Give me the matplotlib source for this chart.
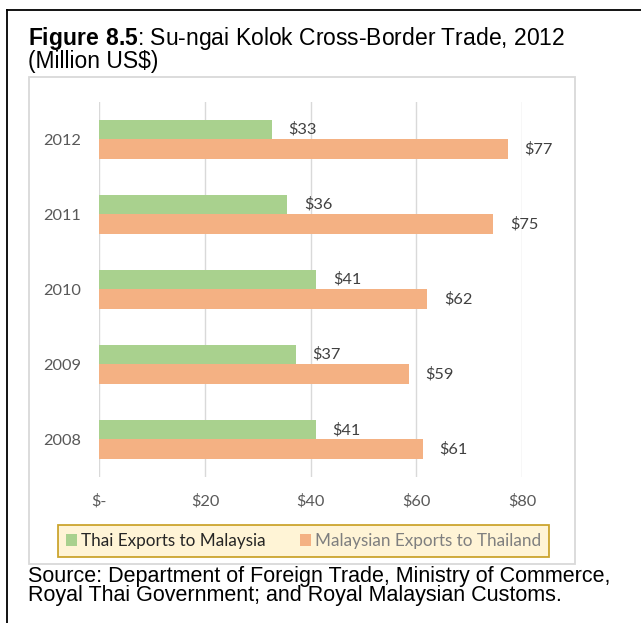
## Su-ngai Kolok cross-border trade, horizontal grouped bars
import matplotlib
matplotlib.use('Agg')
import matplotlib.pyplot as plt
from matplotlib.patches import Rectangle, Patch
from matplotlib.lines import Line2D

years = ['2008', '2009', '2010', '2011', '2012']
thai_exports = [41.0, 37.2, 41.1, 35.6, 32.7]
malay_exports = [61.2, 58.6, 62.1, 74.6, 77.3]
xticks = [0, 20, 40, 60, 80]
xticklabels = ['$-', '$20', '$40', '$60', '$80']
series_names = ['Thai Exports to Malaysia', 'Malaysian Exports to Thailand']

green = '#A9D18E'
orange = '#F4B183'
W, H = 641, 623

plt.rcParams['mathtext.fontset'] = 'custom'
plt.rcParams['mathtext.rm'] = 'Liberation Sans'
plt.rcParams['mathtext.bf'] = 'Liberation Sans:bold'

fig = plt.figure(figsize=(W/100, H/100), dpi=100)

# axes placed in pixel terms
x0, x1, y0, y1 = 99.3, 522, 101.7, 477
ax = fig.add_axes([x0/W, 1-y1/H, (x1-x0)/W, (y1-y0)/H])

pos = list(range(len(years)))
bh = 0.2575
ax.barh([p + bh/2 for p in pos], thai_exports, height=bh, color=green, zorder=3)
ax.barh([p - bh/2 for p in pos], malay_exports, height=bh, color=orange, zorder=3)

for p, v in zip(pos, thai_exports):
    ax.annotate('$%.0f' % v, (v, p + bh/2), xytext=(12, 0), textcoords='offset points',
                ha='left', va='center', fontsize=11.8, family='Lato', color='#404040')
for p, v in zip(pos, malay_exports):
    ax.annotate('$%.0f' % v, (v, p - bh/2), xytext=(12, 0), textcoords='offset points',
                ha='left', va='center', fontsize=11.8, family='Lato', color='#404040')

ax.set_xlim(0, 80)
ax.set_ylim(-0.5, len(years) - 0.5)
ax.set_xticks(xticks)
ax.set_xticklabels(xticklabels)
ax.set_yticks(pos)
ax.set_yticklabels(years)
for lab in ax.get_xticklabels() + ax.get_yticklabels():
    lab.set_family('Lato')
    lab.set_fontsize(11.8)
    lab.set_color('#595959')
ax.tick_params(axis='both', length=0)
ax.tick_params(axis='x', pad=12)
ax.tick_params(axis='y', pad=13)
ax.grid(axis='x', color='#D9D9D9', linewidth=1.0, zorder=0)
for s in ax.spines.values():
    s.set_visible(False)

# legend, stretched over the box width
handles = [Patch(facecolor=green, edgecolor='none'), Patch(facecolor=orange, edgecolor='none')]
leg = fig.legend(handles, series_names, loc='center',
                 bbox_to_anchor=(58/W, 1-559/H, 491/W, 36/H), mode='expand',
                 ncol=2, prop={'family': 'Lato', 'size': 12.3}, frameon=True,
                 fancybox=False, handlelength=0.65, handleheight=0.65, handletextpad=0.25,
                 columnspacing=1.3, borderpad=0.45, borderaxespad=0)
leg.get_frame().set_facecolor('#FFF2CC')
leg.get_frame().set_edgecolor('#BF9000')
leg.get_frame().set_linewidth(1.3)
leg.get_texts()[0].set_color('#262626')
leg.get_texts()[1].set_color('#7F7F7F')

# chart box and outer frame
fig.patches.append(Rectangle((29/W, 1-564/H), (575-29)/W, (564-77)/H, transform=fig.transFigure,
                             fill=False, edgecolor='#D9D9D9', linewidth=1.3))
fig.lines.append(Line2D([7/W, 7/W], [0, 1-10/H], transform=fig.transFigure, color='black', linewidth=1.3))
fig.lines.append(Line2D([7/W, 1], [1-10/H, 1-10/H], transform=fig.transFigure, color='black', linewidth=1.3))

# title (one text, bold part through mathtext)
fig.text(28/W, 1-25/H, r'$\bf{Figure\ 8.5}$: Su-ngai Kolok Cross-Border Trade, 2012' + '\n(Million US\\$)',
         fontsize=16.5, family='Liberation Sans', ha='left', va='top', linespacing=0.88)

# source
fig.text(28/W, 1-566/H, 'Source: Department of Foreign Trade, Ministry of Commerce,\n'
         'Royal Thai Government; and Royal Malaysian Customs.',
         fontsize=15.5, family='Liberation Sans', ha='left', va='top', linespacing=0.85)

fig.savefig('out.png', dpi=100)
